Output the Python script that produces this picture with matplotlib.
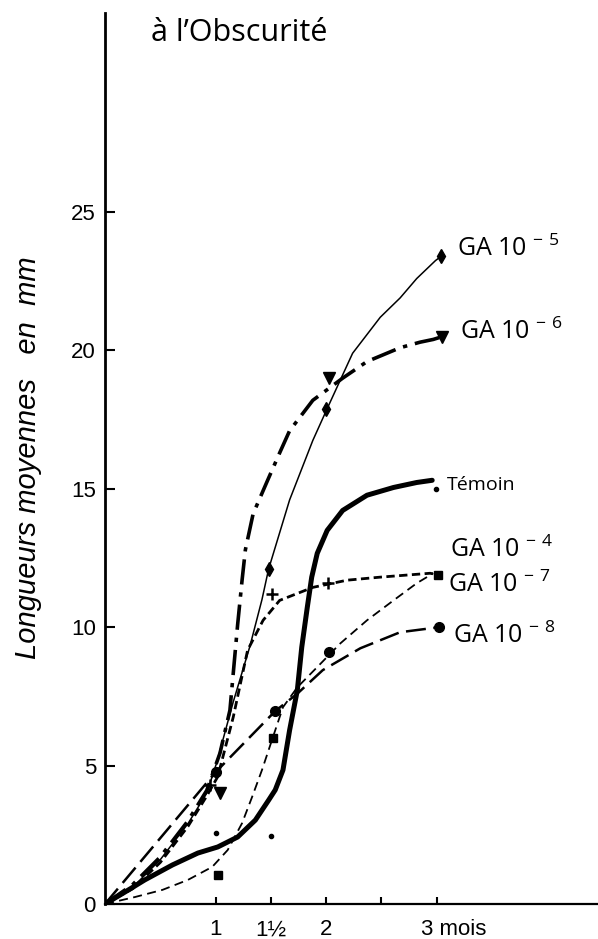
import matplotlib
matplotlib.use('Agg')
import matplotlib.pyplot as plt
from matplotlib.transforms import ScaledTranslation

# curves (hand drawn smooth curves)
ga5_x = [0, 0.25, 0.5, 0.75, 0.92, 1.01, 1.16, 1.31, 1.42, 1.48, 1.67, 1.88, 2.01, 2.24, 2.49, 2.67, 2.82, 2.99, 3.04]
ga5_y = [0, 0.6, 1.6, 2.9, 4.0, 5.1, 7.3, 9.3, 11.0, 12.1, 14.6, 16.75, 17.9, 19.9, 21.2, 21.9, 22.6, 23.25, 23.4]

ga6_x = [0, 0.25, 0.5, 0.75, 0.92, 1.04, 1.13, 1.20, 1.24, 1.27, 1.34, 1.47, 1.58, 1.67, 1.88, 2.15, 2.37, 2.49, 2.67, 2.85, 2.97, 3.05]
ga6_y = [0, 0.7, 1.7, 3.0, 4.1, 5.45, 7.0, 10.1, 11.7, 12.8, 14.1, 15.3, 16.3, 17.1, 18.2, 19.0, 19.6, 19.8, 20.1, 20.3, 20.4, 20.5]

temoin_x = [0, 0.18, 0.36, 0.61, 0.84, 1.02, 1.20, 1.36, 1.48, 1.54, 1.61, 1.67, 1.74, 1.78, 1.83, 1.87, 1.92, 2.01, 2.15, 2.37, 2.61, 2.82, 2.96]
temoin_y = [0, 0.43, 0.87, 1.41, 1.84, 2.06, 2.42, 3.03, 3.75, 4.12, 4.84, 6.28, 7.73, 9.28, 10.72, 11.81, 12.67, 13.5, 14.22, 14.77, 15.05, 15.23, 15.31]

ga4_x = [0, 0.25, 0.5, 0.75, 0.92, 1.02, 1.16, 1.29, 1.43, 1.58, 1.88, 2.19, 2.49, 2.94, 3.01]
ga4_y = [0, 0.55, 1.5, 2.8, 3.9, 4.6, 6.75, 9.17, 10.25, 10.97, 11.44, 11.7, 11.81, 11.95, 11.9]

ga7_x = [0, 0.27, 0.52, 0.75, 0.97, 1.11, 1.24, 1.33, 1.42, 1.51, 1.61, 1.74, 1.92, 2.13, 2.37, 2.61, 2.82, 2.97]
ga7_y = [0, 0.25, 0.51, 0.87, 1.34, 1.95, 2.92, 3.86, 4.84, 5.92, 7.11, 7.83, 8.56, 9.42, 10.25, 10.97, 11.59, 11.95]

ga8_x = [0, 1.0, 1.54, 1.74, 1.97, 2.31, 2.67, 3.02]
ga8_y = [0, 4.76, 6.97, 7.6, 8.45, 9.24, 9.82, 10.0]

# measured points
pts5_x = [1.48, 2.0, 3.04]
pts5_y = [12.1, 17.9, 23.4]
pts6_x = [1.04, 2.03, 3.05]
pts6_y = [4.0, 19.0, 20.5]
ptst_x = [1.0, 1.5, 2.99]
ptst_y = [2.56, 2.45, 15.0]
pts4_x = [0.95, 1.51, 2.02]
pts4_y = [4.3, 11.2, 11.6]
pts7_x = [1.02, 1.52, 3.01]
pts7_y = [1.05, 6.0, 11.9]
pts8_x = [1.0, 1.54, 2.03, 3.02]
pts8_y = [4.76, 6.97, 9.1, 10.0]

xticks = [1, 1.5, 2, 2.5, 3]
xlabels = ['1', '1½', '2', '', '3 mois']
yticks = [0, 5, 10, 15, 20, 25]

plt.rcParams['mathtext.fontset'] = 'custom'
plt.rcParams['mathtext.rm'] = 'Open Sans'
plt.rcParams['mathtext.default'] = 'rm'

fig = plt.figure(figsize=(5.98, 9.39), dpi=100)
ax = fig.add_axes([0.1756, 0.0373, 0.8244, 0.949])

ax.plot(ga5_x, ga5_y, color='black', lw=1.1)
ax.plot(ga6_x, ga6_y, color='black', lw=2.6, dashes=(7, 2.2, 1.2, 2.2))
ax.plot(temoin_x, temoin_y, color='black', lw=3.6, solid_capstyle='round')
ax.plot(ga4_x, ga4_y, color='black', lw=2.0, dashes=(3, 1.6))
ax.plot(ga7_x, ga7_y, color='black', lw=1.3, dashes=(5, 3))
ax.plot(ga8_x, ga8_y, color='black', lw=1.8, dashes=(8, 3))

ax.plot(pts5_x, pts5_y, 'kd', ms=7, ls='none')
ax.plot(pts6_x, pts6_y, 'kv', ms=8, ls='none')
ax.plot(ptst_x, ptst_y, 'ko', ms=3, ls='none')
ax.plot(pts4_x, pts4_y, 'k+', ms=9, mew=1.8, ls='none')
ax.plot(pts7_x, pts7_y, 'ks', ms=6, ls='none')
ax.plot(pts8_x, pts8_y, 'ko', ms=7, ls='none')

lab = dict(fontsize=18, family='Open Sans', va='baseline', ha='left')
ax.text(3.186, 23.43, 'GA 10 $^{-\\ 5}$', **lab)
ax.text(3.213, 20.43, 'GA 10 $^{-\\ 6}$', **lab)
ax.text(3.095, 14.95, 'Témoin', fontsize=14, family='Open Sans', va='baseline', ha='left')
ax.text(3.122, 12.53, 'GA 10 $^{-\\ 4}$', **lab)
ax.text(3.104, 11.26, 'GA 10 $^{-\\ 7}$', **lab)
ax.text(3.149, 9.42, 'GA 10 $^{-\\ 8}$', **lab)

ax.set_xlim(0, 4.46)
ax.set_ylim(0, 32.2)
ax.spines['top'].set_visible(False)
ax.spines['right'].set_visible(False)
ax.spines['left'].set_linewidth(2)
ax.spines['bottom'].set_linewidth(1.6)

ax.set_xticks(xticks)
ax.set_xticklabels(xlabels, fontsize=16, family='Liberation Sans')
ax.set_yticks(yticks)
ax.set_yticklabels([str(v) for v in yticks], fontsize=16, family='Liberation Sans')
ax.tick_params(axis='y', direction='in', length=7, width=1.5, pad=6.5)
ax.tick_params(axis='x', direction='in', length=5, width=1.5, pad=11)
last = ax.get_xticklabels()[-1]
last.set_ha('left')
last.set_transform(last.get_transform() + ScaledTranslation(-0.16, 0, fig.dpi_scale_trans))

fig.text(239 / 598, 1 - 41 / 939, 'à l’Obscurité', fontsize=22, family='Open Sans',
         ha='center', va='baseline')
fig.text(28 / 598, 1 - 458 / 939, 'Longueurs moyennes   en  mm', fontsize=21,
         family='Liberation Sans', style='italic', rotation=90, ha='center', va='center')

fig.savefig('out.png', dpi=100)
